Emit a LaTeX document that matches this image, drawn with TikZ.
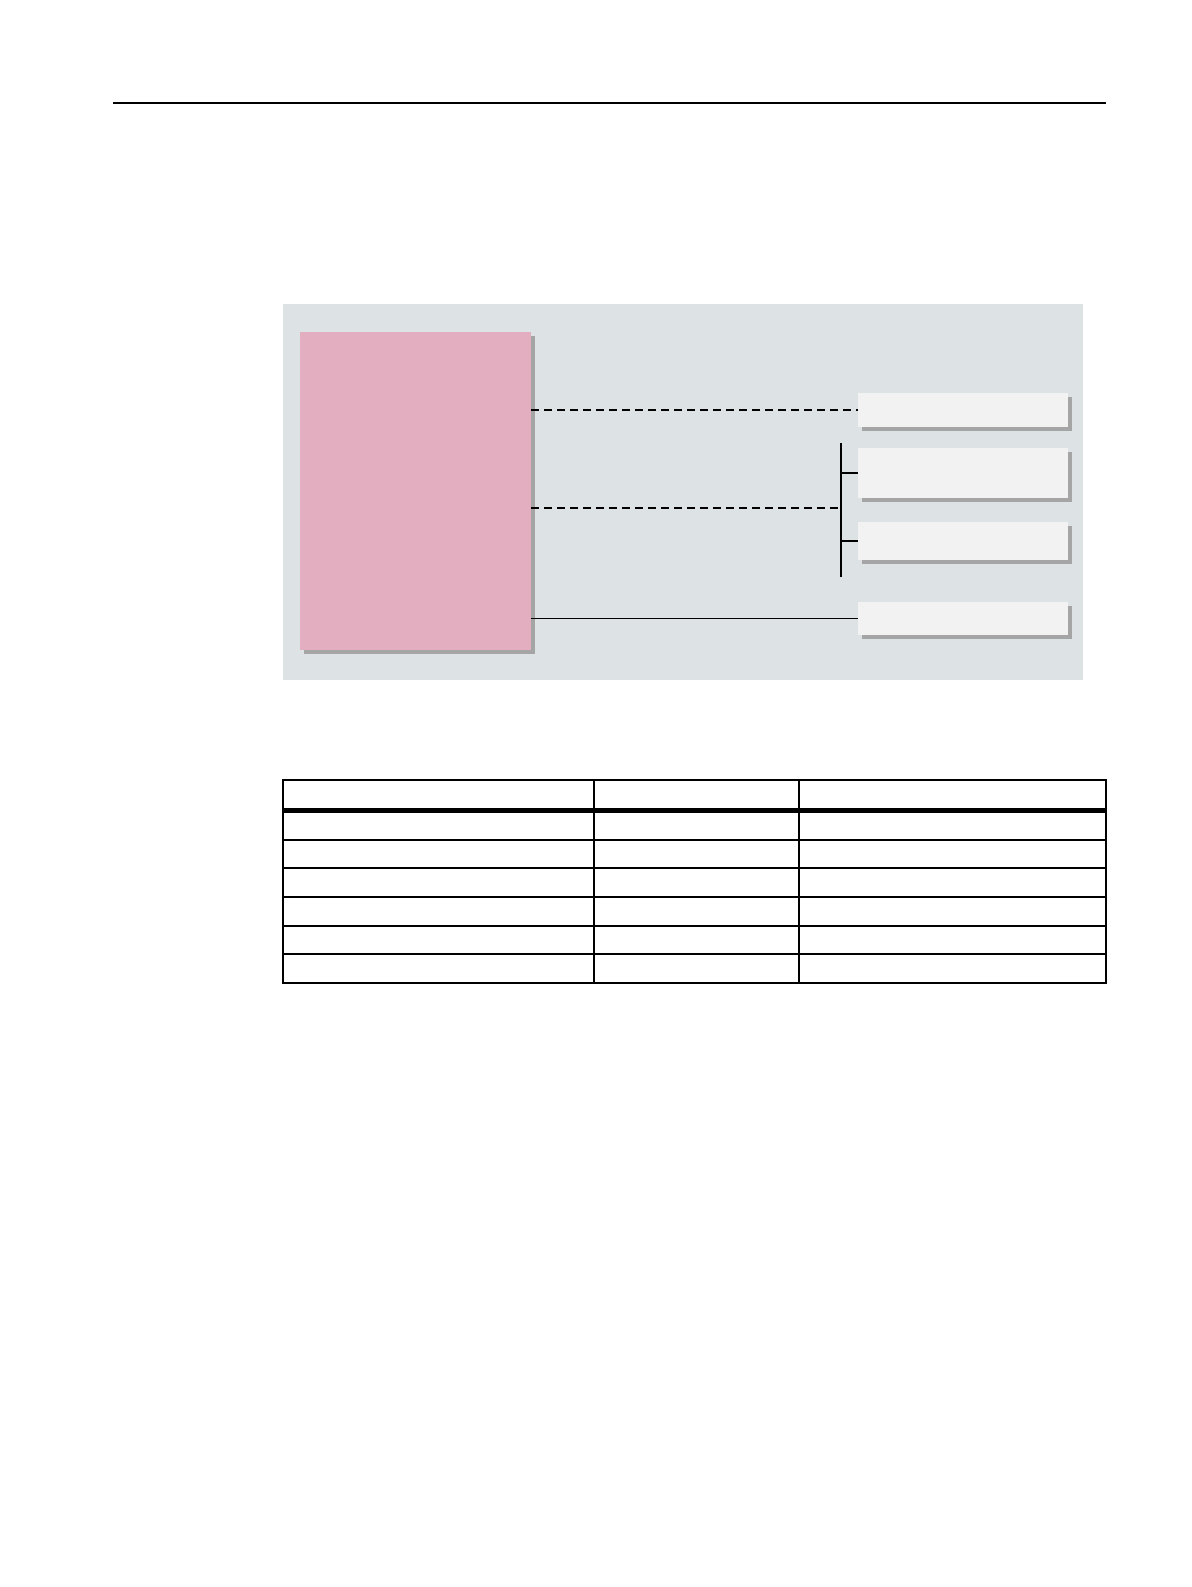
\documentclass[tikz,border=0pt]{standalone}
\usetikzlibrary{shadows}
\definecolor{panelgray}{RGB}{221,226,229}
\definecolor{pinkbox}{RGB}{227,175,192}
\definecolor{whitebox}{RGB}{242,242,242}
\definecolor{shadowgray}{RGB}{165,165,165}
\tikzset{
  panel/.style={fill=panelgray, draw=none},
  shadowbox/.style={rectangle, draw=none, inner sep=0pt, anchor=center,
    drop shadow={shadow xshift=2pt, shadow yshift=-2pt, fill=shadowgray, opacity=1}},
  bigbox/.style={shadowbox, fill=pinkbox, minimum width=115.5pt, minimum height=159pt},
  smallbox/.style={shadowbox, fill=whitebox, minimum width=105pt},
  dashlink/.style={draw=black, line width=0.7pt, dash pattern=on 4pt off 2.5pt},
  solidlink/.style={draw=black, line width=0.7pt},
  tick/.style={draw=black, line width=1pt},
  tabline/.style={draw=black, line width=1pt},
  tabthick/.style={draw=black, line width=2.5pt},
  rule/.style={draw=black, line width=0.75pt}
}
\begin{document}
\begin{tikzpicture}[x=0.5pt, y=-0.5pt]
\useasboundingbox[fill=white] (0,0) rectangle (1191,1587);
% top rule
\coordinate (ruleL) at (113,103);
\coordinate (ruleR) at (1106,103);
\draw[rule] (ruleL) -- (ruleR);
% panel
\fill[panel] (283,304) rectangle (1083,680);
% boxes
\node[bigbox] (pink) at (415.5,491) {};
\node[smallbox, minimum height=17pt] (b1) at (963,410) {};
\node[smallbox, minimum height=25pt] (b2) at (963,473) {};
\node[smallbox, minimum height=19pt] (b3) at (963,541) {};
\node[smallbox, minimum height=16.5pt] (b4) at (963,618.5) {};
% connectors
\coordinate (junc) at (841,508);
\coordinate (brTop) at (841,443);
\coordinate (brBot) at (841,577);
\draw[dashlink] (pink.east |- b1.west) -- (b1.west);
\draw[dashlink] (pink.east |- junc) -- (junc);
\draw[solidlink] (brTop) -- (brBot);
\draw[tick] (brTop |- b2.west) -- (b2.west);
\draw[solidlink] (brTop |- b3.west) -- (b3.west);
\draw[solidlink] (pink.east |- b4.west) -- (b4.west);
% table
\coordinate (tTL) at (283,780);
\coordinate (tBR) at (1106,983);
\draw[tabline] (tTL) rectangle (tBR);
\draw[tabline] (594,780) -- (594,983);
\draw[tabline] (799,780) -- (799,983);
\draw[tabthick] (283,810) -- (1106,810);
\foreach \yy in {840,868,897,926,954} {
  \draw[tabline] (283,\yy) -- (1106,\yy);
}
\end{tikzpicture}
\end{document}
